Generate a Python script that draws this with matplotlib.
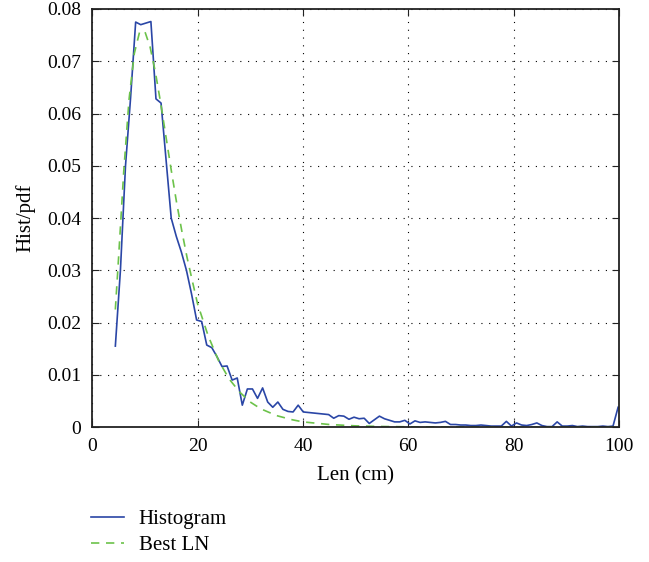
import numpy as np
import matplotlib
matplotlib.use("Agg")
import matplotlib.pyplot as plt

plt.rcParams['font.family'] = ['Liberation Serif', 'DejaVu Serif']

# histogram of lengths (bin centres run from 4.4 to 99.8 cm)
hist_vals = [
    0.0155, 0.0300, 0.0500, 0.0630, 0.0775, 0.0770, 0.0773, 0.0776, 0.0628, 0.0620,
    0.0510, 0.0400, 0.0365, 0.0335, 0.0300, 0.0255, 0.0205, 0.0202, 0.0157, 0.0152,
    0.0135, 0.0116, 0.0117, 0.0090, 0.0094, 0.0042, 0.0073, 0.0073, 0.0055, 0.0075,
    0.0048, 0.0038, 0.0048, 0.0034, 0.0030, 0.0029, 0.0042, 0.0029, 0.0028, 0.0027,
    0.0026, 0.0025, 0.0024, 0.0017, 0.0022, 0.0021, 0.0015, 0.0019, 0.0016, 0.0017,
    0.0007, 0.0014, 0.0021, 0.0016, 0.0013, 0.0010, 0.0010, 0.0013, 0.0006, 0.0012,
    0.0009, 0.0010, 0.0009, 0.0008, 0.0009, 0.0011, 0.0005, 0.0005, 0.0004, 0.0004,
    0.0003, 0.0003, 0.0004, 0.0003, 0.0002, 0.0002, 0.0002, 0.0011, 0.0002, 0.0008,
    0.0004, 0.0003, 0.0005, 0.0008, 0.0003, 0.0001, 0.0001, 0.0010, 0.0002, 0.0002,
    0.0003, 0.0001, 0.0002, 0.0001, 0.0001, 0.0001, 0.0002, 0.0001, 0.0002, 0.0038,
]
hist_x = np.linspace(4.4, 99.8, len(hist_vals))

# best lognormal fit
fit_x = [4.4, 5, 6, 7, 8, 9, 10, 11, 12, 13, 14, 15, 16, 17, 18, 19, 20, 22, 24, 26,
         28, 30, 32, 35, 38, 40, 45, 50, 55, 60, 70, 80, 90, 100]
fit_vals = [0.0225, 0.0322, 0.0490, 0.0627, 0.0715, 0.0756, 0.0757, 0.0727, 0.0679, 0.0620,
            0.0556, 0.0492, 0.0431, 0.0376, 0.0325, 0.0280, 0.0236, 0.0175, 0.0127, 0.0092,
            0.0067, 0.0048, 0.0035, 0.0022, 0.0014, 0.0010, 0.0005, 0.00024, 0.00012, 0.00006,
            0.00002, 0.0, 0.0, 0.0]

fig = plt.figure(figsize=(6.49, 5.62), dpi=100)
ax = fig.add_axes([0.142, 0.240, 0.812, 0.744])

ax.plot(hist_x, hist_vals, color='#2a46a6', lw=1.2, label='Histogram')
ax.plot(fit_x, fit_vals, color='#6cc24a', lw=1.2, ls=(0, (5, 4)), label='Best LN')

ax.set_xlim(0, 100)
ax.set_ylim(0, 0.08)
ax.set_xticks([0, 20, 40, 60, 80, 100])
ax.set_yticks([0, 0.01, 0.02, 0.03, 0.04, 0.05, 0.06, 0.07, 0.08])
ax.set_yticklabels(['0', '0.01', '0.02', '0.03', '0.04', '0.05', '0.06', '0.07', '0.08'])
ax.grid(True, color='black', ls=(0, (1, 6)), lw=0.8)
ax.tick_params(direction='in', top=True, right=True, labelsize=14, length=5, color='#222222')
ax.tick_params(axis='x', pad=8)
ax.tick_params(axis='y', pad=8)
for s in ax.spines.values():
    s.set_color('#222222')
    s.set_linewidth(1.3)

ax.set_xlabel('Len (cm)', fontsize=15, labelpad=8)
ax.set_ylabel('Hist/pdf', fontsize=15, labelpad=8)

fig.legend(loc='upper left', bbox_to_anchor=(0.14, 0.093), frameon=False,
           fontsize=15, handlelength=1.6, handletextpad=0.7, labelspacing=0.3,
           borderaxespad=0, borderpad=0)

fig.savefig('out.png', dpi=100)
